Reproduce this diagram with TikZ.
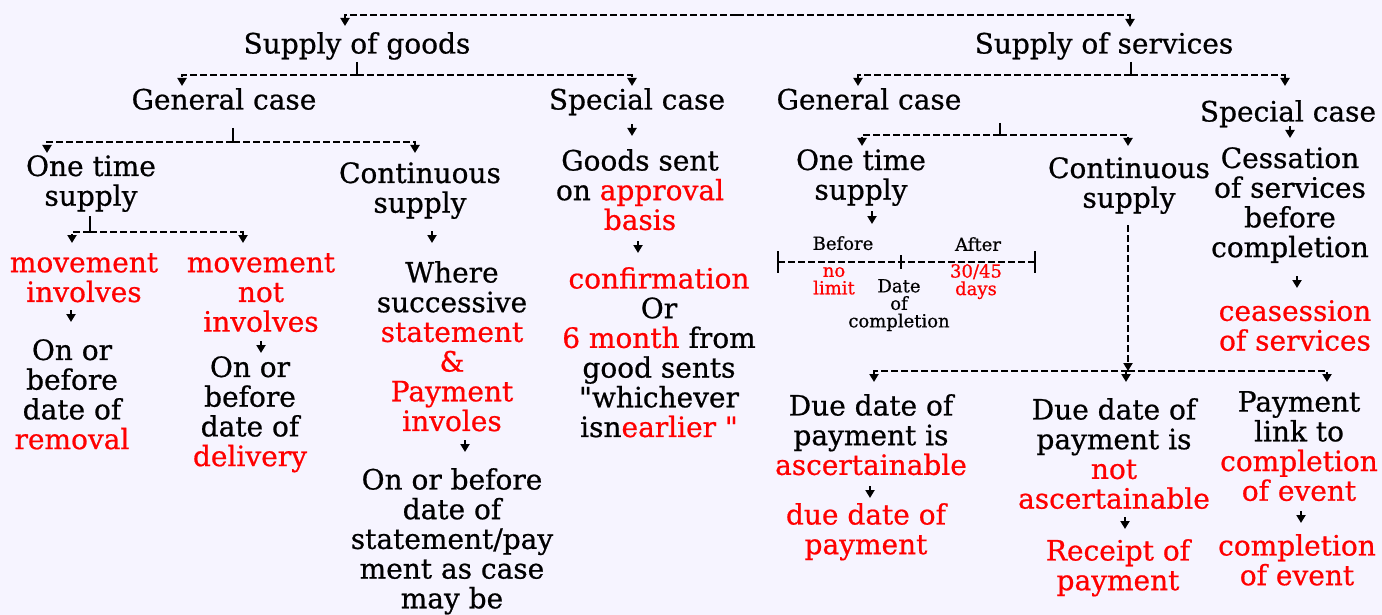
\documentclass[tikz,border=0pt]{standalone}
\usepackage{fontspec}
\setmainfont{DejaVu Serif}[FakeBold=0.7]
\newfontfamily\qf{DejaVu Serif}[FakeBold=0.7]
\usetikzlibrary{arrows.meta}
\definecolor{bg}{RGB}{246,244,255}
\definecolor{rd}{RGB}{255,0,0}
\newcommand\rr[1]{\textcolor{rd}{#1}}
\newcommand\qq{{\qf"}}
\newcommand\mainfs{\fontsize{28}{29.7}\selectfont}
\newcommand\smallfs{\fontsize{18}{17.5}\selectfont}
\tikzset{
  txt/.style={align=center, inner sep=0pt, font=\mainfs, anchor=north},
  sml/.style={align=center, inner sep=0pt, font=\smallfs, anchor=north},
  dl/.style={dash pattern=on 7pt off 3pt, line width=2.1pt},
  arr/.style={-{Triangle[length=8pt,width=9pt]}, line width=2.1pt},
  tick/.style={line width=2.1pt}
}
\begin{document}
\begin{tikzpicture}[x=1pt,y=-1pt]
\fill[bg] (0,0) rectangle (1382,615);
\useasboundingbox (0,0) rectangle (1382,615);

% ---------- text nodes ----------
\node[txt] (sg) at (357,32) {Supply of goods};
\node[txt] (ss) at (1104,32) {Supply of services};

\node[txt] (gg) at (224,88) {General case};
\node[txt] (gs) at (637,88) {Special case};

\node[txt] (g1) at (91,155) {One time\\supply};
\node[txt] (gc) at (420,162) {Continuous\\supply};

\node[txt] (mi) at (84,253) {\rr{movement}\\\rr{involves}};
\node[txt] (rem) at (72,339) {On or\\before\\date of\\\rr{removal}};
\node[txt] (mni) at (261,253) {\rr{movement}\\\rr{not}\\\rr{involves}};
\node[txt] (del) at (250,356) {On or\\before\\date of\\\rr{delivery}};

\node[txt] (ws) at (452,261) {Where\\successive\\\rr{statement}\\\rr{\&}\\\rr{Payment}\\\rr{involes}};
\node[txt] (ob) at (452,468) {On or before\\date of\\statement/pay\\ment as case\\may be};

\node[txt] (gsa) at (640,149) {Goods sent\\on \rr{approval}\\\rr{basis}};
\node[txt] (conf) at (659,267) {\rr{confirmation}\\Or\\\rr{6 month} from\\good sents\\\qq whichever\\isn\rr{earlier \qq}};

\node[txt] (sgc) at (869,88) {General case};
\node[txt] (ssc) at (1288,100) {Special case};

\node[txt] (s1) at (861,149) {One time\\supply};
\node[txt] (sc) at (1129,157) {Continuous\\supply};

\node[txt] (ces) at (1290,147) {Cessation\\of services\\before\\completion};
\node[txt] (cea) at (1295,300) {\rr{ceasession}\\\rr{of services}};

\node[sml] (bef) at (843,236) {Before};
\node[sml] (aft) at (978,237) {After};
\node[sml] (nol) at (834,267) {\rr{no}\\\rr{limit}};
\node[sml] (doc) at (899,279) {Date\\of\\completion};
\node[sml] (days) at (976,264) {\rr{30/45}\\\rr{days}};

\node[txt] (dd1) at (871,394) {Due date of\\payment is\\\rr{ascertainable}};
\node[txt] (ddp) at (866,503) {\rr{due date of}\\\rr{payment}};
\node[txt] (dd2) at (1114,398) {Due date of\\payment is\\\rr{not}\\\rr{ascertainable}};
\node[txt] (rop) at (1118,539) {\rr{Receipt of}\\\rr{payment}};
\node[txt] (pl) at (1299,391) {Payment\\link to\\\rr{completion}\\\rr{of event}};
\node[txt] (coe) at (1297,534) {\rr{completion}\\\rr{of event}};

% ---------- junction coordinates ----------
\coordinate (top) at (737,15);
\coordinate (jg) at (357,75);
\coordinate (jgg) at (233,142);
\coordinate (jg1) at (90,232);
\coordinate (js) at (1131,75);
\coordinate (jsg) at (1000,135);
\coordinate (jsc) at (1128,371);

% ---------- top ----------
\draw[dl,arr] (top) -| (345,26);
\draw[dl,arr] (top) -| (1130,27);

% ---------- goods ----------
\draw[tick] (357,62) -- (jg);
\draw[dl,arr] (jg) -| (182,86);
\draw[dl,arr] (jg) -| (632,86);

\draw[tick] (233,128) -- (jgg);
\draw[dl,arr] (jgg) -| (47,153);
\draw[dl,arr] (jgg) -| (415,153);

\draw[tick] (90,216) -- (jg1);
\draw[dl,arr] (jg1) -| (72,243);
\draw[dl,arr] (jg1) -| (243,243);

\draw[arr] (71,310) -- (71,322);
\draw[arr] (261,341) -- (261,353);
\draw[arr] (432,231) -- (432,243);
\draw[arr] (465,440) -- (465,452);
\draw[arr] (632,124) -- (632,136);
\draw[arr] (638,241) -- (638,253);

% ---------- services ----------
\draw[tick] (1131,62) -- (js);
\draw[dl,arr] (js) -| (858,86);
\draw[dl,arr] (js) -| (1285,86);

\draw[tick] (1000,123) -- (jsg);
\draw[dl,arr] (jsg) -| (862,146);
\draw[dl,arr] (jsg) -| (1128,146);

\draw[arr] (1290,126) -- (1290,138);
\draw[arr] (1297,276) -- (1297,288);
\draw[arr] (872,211) -- (872,224);

% timeline
\draw[dl] (778,262) -- (1035,262);
\draw[tick] (778,251) -- (778,273);
\draw[tick] (901,255) -- (901,269);
\draw[tick] (1035,251) -- (1035,273);

% continuous supply
\draw[dl,arr] (1128,225) -- (jsc);
\draw[dl,arr] (jsc) -| (874,382);
\draw[dl,arr] (jsc) -| (1327,382);
\draw[arr] (1126,371) -- (1126,382);

\draw[arr] (870,486) -- (870,498);
\draw[arr] (1125,517) -- (1125,529);
\draw[arr] (1301,511) -- (1301,523);
\end{tikzpicture}
\end{document}
